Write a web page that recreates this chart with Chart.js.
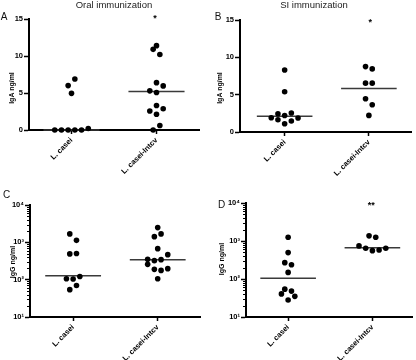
<!DOCTYPE html>
<html><head><meta charset="utf-8">
<script src="https://cdn.jsdelivr.net/npm/chart.js@4/dist/chart.umd.min.js"></script>
<style>
html,body{margin:0;padding:0;background:#fff;}
#wrap{position:relative;width:416px;height:360px;overflow:hidden;background:#fff;}
canvas{position:absolute;left:0;top:0;}
.t{position:absolute;font-family:"Liberation Sans",Arial,sans-serif;color:#111;white-space:nowrap;line-height:1;}
.title{font-size:9.5px;transform:translateX(-50%);color:#222;}
.letter{font-size:10px;transform:translate(-50%,-50%);}
.ylab{font-size:7px;font-weight:bold;transform:translate(-50%,-50%) rotate(-90deg);color:#000;}
.star{font-size:9px;font-weight:bold;transform:translateX(-50%);color:#000;}
</style></head>
<body><div id="wrap">
<canvas id="cA" width="416" height="360"></canvas>
<canvas id="cB" width="416" height="360"></canvas>
<canvas id="cC" width="416" height="360"></canvas>
<canvas id="cD" width="416" height="360"></canvas>
<div class="t title" style="left:114px;top:0px;">Oral immunization</div>
<div class="t title" style="left:314px;top:0px;">SI immunization</div>
<div class="t letter" style="left:4px;top:17px;">A</div>
<div class="t letter" style="left:218px;top:17px;">B</div>
<div class="t letter" style="left:6.5px;top:195px;">C</div>
<div class="t letter" style="left:221.5px;top:205px;">D</div>
<div class="t ylab" style="left:11px;top:88px;">IgA ng/ml</div>
<div class="t ylab" style="left:218.5px;top:87.5px;">IgA ng/ml</div>
<div class="t ylab" style="left:12px;top:262px;">IgG ng/ml</div>
<div class="t ylab" style="left:221px;top:259px;">IgG ng/ml</div>
<div class="t star" style="left:155px;top:14px;">*</div>
<div class="t star" style="left:370.3px;top:17.5px;">*</div>
<div class="t star" style="left:371.3px;top:201px;">**</div>
</div>
<script>
// ---------- DATA ----------
const categories = ['L. casei', 'L. casei-Intcv'];
// Panel A: oral immunization, IgA ng/ml
const oralIgA_casei = [6.0, 6.9, 4.95, 0, 0, 0, 0, 0, 0.2];
const oralIgA_intcv = [11.4, 10.9, 10.2, 6.4, 5.29, 5.06, 5.96, 3.32, 2.57, 2.12, 2.88, 0, 0.6];
const oralIgA_lines = [0, 5.2];
// Panel B: SI immunization, IgA ng/ml
const siIgA_casei = [8.3, 5.4, 2.45, 2.2, 2.54, 1.9, 1.65, 1.1, 1.47, 1.87];
const siIgA_intcv = [8.76, 8.45, 6.54, 6.54, 4.45, 3.64, 2.22];
const siIgA_lines = [2.1, 5.82];
// Panel C: oral immunization, IgG ng/ml
const oralIgG_casei = [1680, 1130, 490, 500, 106, 104, 122, 54, 70];
const oralIgG_intcv = [2480, 1420, 1680, 678, 350, 323, 344, 468, 257, 189, 177, 197, 106];
const oralIgG_lines = [128, 344];
// Panel D: SI immunization, IgG ng/ml
const siIgG_casei = [1260, 495, 269, 238, 149, 54, 48, 40.6, 28, 35];
const siIgG_intcv = [1365, 1260, 742, 646, 557, 582, 646];
const siIgG_lines = [104, 668];
// Tick labels
const linearTicks = [0, 5, 10, 15];
const logTicks = [10, 100, 1000, 10000];
const logTickLabels = ['10¹', '10²', '10³', '10⁴'];

// ---------- DRAWING ----------
Chart.defaults.font.family = '"Liberation Sans", Arial, sans-serif';
Chart.defaults.color = '#000';

const HALF = 0.33;      // half-width of the median bar in category units
const ROW_T = 7;        // px: vertical distance for points to share a row
const SPACING = 6.7;    // px: horizontal spacing of points in a row

const minorTicks = {
  id: 'minorTicks',
  afterDraw(chart) {
    const s = chart.scales.y;
    if (s.type !== 'logarithmic') return;
    const ctx = chart.ctx;
    ctx.save();
    ctx.strokeStyle = '#000';
    ctx.lineWidth = 1;
    for (let e = 1; e < 4; e++) {
      for (let k = 2; k < 10; k++) {
        const y = Math.round(s.getPixelForValue(k * Math.pow(10, e))) + 0.5;
        ctx.beginPath();
        ctx.moveTo(s.right - 3, y);
        ctx.lineTo(s.right, y);
        ctx.stroke();
      }
    }
    ctx.restore();
  }
};

function swarm(chart) {
  const xs = chart.scales.x, ys = chart.scales.y;
  chart.data.datasets.forEach(ds => {
    if (!ds.values) return;
    const cx = xs.getPixelForValue(ds.group);
    const items = ds.values.map((v, i) => ({ v, i, d: ys.bottom - ys.getPixelForValue(v) }));
    const sorted = [...items].sort((a, b) => a.d - b.d || a.i - b.i);
    const rows = [];
    let row = null;
    sorted.forEach(it => {
      if (!row || it.d - row[0].d >= ROW_T) { row = [it]; rows.push(row); }
      else row.push(it);
    });
    rows.forEach(r => {
      r.sort((a, b) => a.i - b.i);
      r.forEach((it, k) => { it.px = cx + (k - (r.length - 1) / 2) * SPACING; });
    });
    ds.data = items.map(it => ({ x: xs.getValueForPixel(it.px), y: it.v }));
  });
  chart.update('none');
}

function makePanel(id, p) {
  const datasets = [];
  p.groups.forEach((vals, gi) => {
    datasets.push({
      type: 'scatter', label: categories[gi], values: vals, group: gi + 1,
      data: vals.map(v => ({ x: gi + 1, y: v })),
      pointRadius: 2.8, pointHoverRadius: 2.8, pointBorderWidth: 0,
      backgroundColor: '#000', borderColor: '#000', clip: false, order: 1
    });
  });
  p.lines.forEach((m, gi) => {
    datasets.push({
      type: 'line', label: 'median ' + categories[gi],
      data: [{ x: gi + 1 - HALF, y: m }, { x: gi + 1 + HALF, y: m }],
      borderColor: '#3a3a3a', borderWidth: 1.5, pointRadius: 0, fill: false, clip: false, order: 2
    });
  });
  const chart = new Chart(document.getElementById(id), {
    data: { datasets },
    options: {
      responsive: false, animation: false, devicePixelRatio: 1,
      layout: { padding: p.pad },
      plugins: { legend: { display: false }, tooltip: { enabled: false } },
      events: [],
      scales: {
        x: {
          type: 'linear', min: p.xmin, max: p.xmax,
          afterBuildTicks: s => { s.ticks = [{ value: 1 }, { value: 2 }]; },
          afterFit: s => { s.height = p.xh; },
          ticks: {
            callback: v => categories[Math.round(v) - 1] || '',
            minRotation: 45, maxRotation: 45, autoSkip: false,
            font: { size: 7.5, weight: 'bold' }, color: '#000', padding: 2
          },
          grid: { drawOnChartArea: false, drawTicks: true, tickLength: 4, tickColor: '#000', tickWidth: 1.5 },
          border: { color: '#000', width: 2 }
        },
        y: {
          type: p.log ? 'logarithmic' : 'linear', min: p.ymin, max: p.ymax,
          afterBuildTicks: s => { s.ticks = p.yTicks.map(v => ({ value: v })); },
          afterFit: s => { s.width = p.yw; },
          ticks: {
            callback: (v) => p.log ? logTickLabels[logTicks.indexOf(v)] : String(v),
            font: { size: 7.5, weight: 'bold' }, color: '#000', padding: 1
          },
          grid: { drawOnChartArea: false, tickLength: 5, tickColor: '#000', tickWidth: 1.5 },
          border: { color: '#000', width: 2 }
        }
      }
    },
    plugins: [minorTicks]
  });
  swarm(chart);
  return chart;
}

makePanel('cA', { groups: [oralIgA_casei, oralIgA_intcv], lines: oralIgA_lines, log: false,
  ymin: 0, ymax: 15, yTicks: linearTicks, yw: 29, xh: 60, xmin: 0.5, xmax: 2.5,
  pad: { left: 0, top: 19, right: 217, bottom: 170 } });
makePanel('cB', { groups: [siIgA_casei, siIgA_intcv], lines: siIgA_lines, log: false,
  ymin: 0, ymax: 15, yTicks: linearTicks, yw: 32, xh: 60, xmin: 0.47, xmax: 2.5,
  pad: { left: 208, top: 20, right: 5, bottom: 168 } });
makePanel('cC', { groups: [oralIgG_casei, oralIgG_intcv], lines: oralIgG_lines, log: true,
  ymin: 10, ymax: 10000, yTicks: logTicks, yw: 30, xh: 43, xmin: 0.49, xmax: 2.5,
  pad: { left: 0, top: 205, right: 216, bottom: 0 } });
makePanel('cD', { groups: [siIgG_casei, siIgG_intcv], lines: siIgG_lines, log: true,
  ymin: 10, ymax: 10000, yTicks: logTicks, yw: 38, xh: 43, xmin: 0.5, xmax: 2.47,
  pad: { left: 208, top: 203, right: 4, bottom: 0 } });
</script>
</body></html>
